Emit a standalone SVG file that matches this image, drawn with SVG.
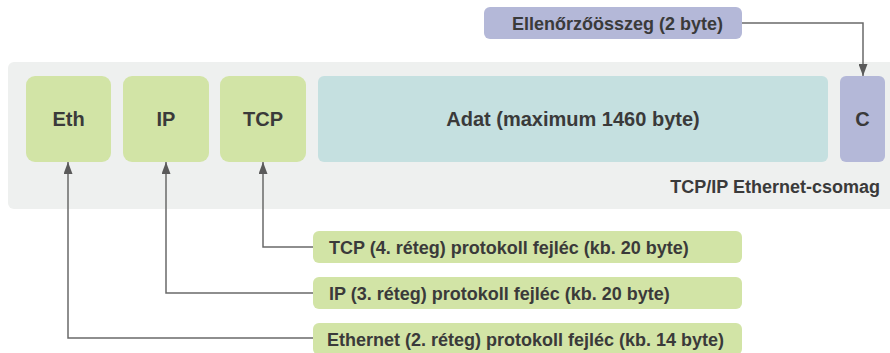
<svg xmlns="http://www.w3.org/2000/svg" width="890" height="353" viewBox="0 0 890 353">
<defs>
<style>
.t{font-family:"Liberation Sans",Arial,sans-serif;font-weight:bold;fill:#3a3a3a}
.big{font-size:20px;text-anchor:middle}
.sm{font-size:18px}
.g{fill:#d2e4a6}
.p{fill:#b4b8d8}
.c{fill:none;stroke:#6a6a6a;stroke-width:1.5}
</style>
<marker id="ah" viewBox="0 0 12 9" refX="12" refY="4.5" markerWidth="12" markerHeight="9" markerUnits="userSpaceOnUse" orient="auto">
<path d="M0,0 L12,4.5 L0,9 z" fill="#5a5a5a"/>
</marker>
</defs>
<rect width="890" height="353" fill="#ffffff"/>
<g id="packet">
<rect x="8" y="62" width="900" height="147" rx="6" fill="#eef0ef"/>
<text class="t sm" x="880" y="193" text-anchor="end">TCP/IP Ethernet-csomag</text>
</g>
<g id="eth"><rect class="g" x="26" y="76" width="85" height="86" rx="9"/><text class="t big" x="68.5" y="126">Eth</text></g>
<g id="ip"><rect class="g" x="123" y="76" width="86" height="86" rx="9"/><text class="t big" x="166" y="126">IP</text></g>
<g id="tcp"><rect class="g" x="220" y="76" width="86" height="86" rx="9"/><text class="t big" x="263" y="126">TCP</text></g>
<g id="adat"><rect x="318" y="76" width="510" height="86" rx="6" fill="#c5e0e0"/><text class="t big" x="573" y="126">Adat (maximum 1460 byte)</text></g>
<g id="c"><rect class="p" x="840" y="76" width="45" height="86" rx="6"/><text class="t big" x="862.5" y="126">C</text></g>
<g id="checksum"><rect class="p" x="484" y="7" width="258" height="32" rx="6"/><text class="t sm" x="512" y="30">Ellenőrzőösszeg (2 byte)</text></g>
<g id="tcphdr"><rect class="g" x="313" y="231" width="429" height="32" rx="6"/><text class="t sm" x="329" y="254">TCP (4. réteg) protokoll fejléc (kb. 20 byte)</text></g>
<g id="iphdr"><rect class="g" x="313" y="277" width="429" height="32" rx="6"/><text class="t sm" x="329" y="300">IP (3. réteg) protokoll fejléc (kb. 20 byte)</text></g>
<g id="ethhdr"><rect class="g" x="313" y="323" width="429" height="32" rx="6"/><text class="t sm" x="327" y="346">Ethernet (2. réteg) protokoll fejléc (kb. 14 byte)</text></g>
<g id="connectors">
<path class="c" d="M742,23 H863 V76" marker-end="url(#ah)"/>
<path class="c" d="M313,247 H263 V162" marker-end="url(#ah)"/>
<path class="c" d="M313,293 H166 V162" marker-end="url(#ah)"/>
<path class="c" d="M313,338 H68 V162" marker-end="url(#ah)"/>
</g>
</svg>
